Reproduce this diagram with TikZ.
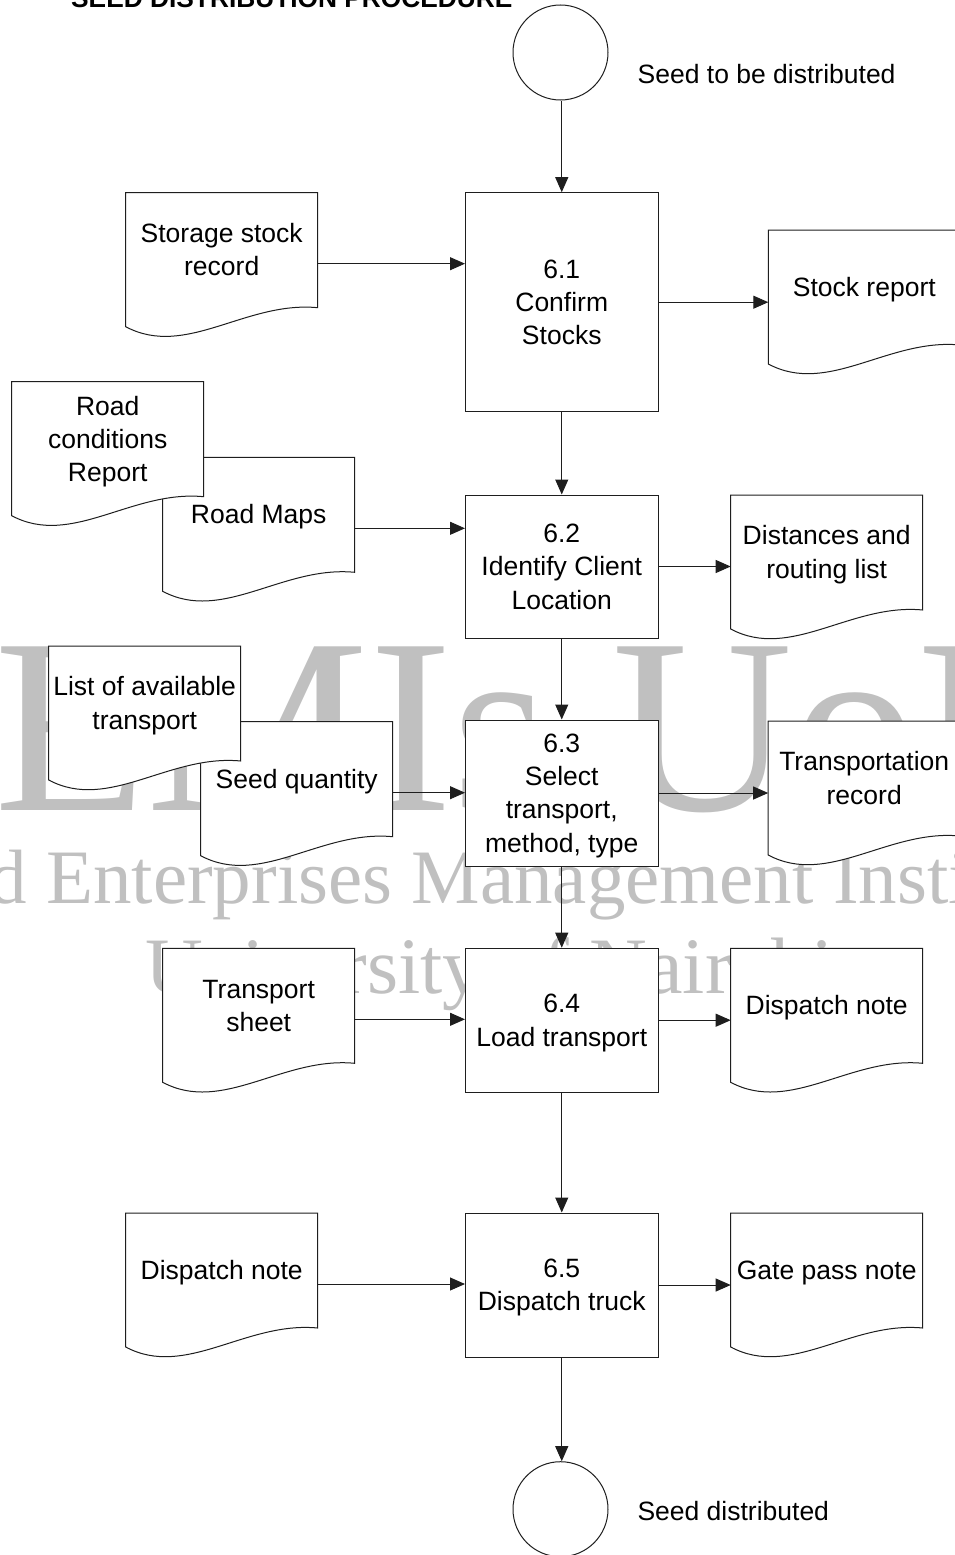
\documentclass[tikz,border=0pt]{standalone}
\usepackage{fontspec}
\setmainfont{Liberation Sans}
\newfontfamily\wmfont{Liberation Serif}
\usetikzlibrary{arrows.meta}
\definecolor{wm}{RGB}{192,192,192}
\definecolor{lc}{RGB}{30,30,30}
\newcommand\bodyfont{\fontsize{26.5}{33.3}\selectfont}
\newcommand\pst{\rule[-7.45pt]{0pt}{33.3pt}}
\newcommand\docshape[4]{%
  \path[docline] (#2,#3) -- (#2+192,#3) -- (#2+192,#3+115)
     .. controls (#2+120,#3+108) and (#2+60,#3+166) .. (#2,#3+134) -- cycle;
  \node[doctext] (#1) at (#2+96,#3+57.4) {#4};
  \coordinate (#1-w) at (#2,#3+71);
  \coordinate (#1-e) at (#2+192,#3+71);
}
\begin{document}
\begin{tikzpicture}[x=1pt,y=-1pt,
  docline/.style={draw=lc, line width=1pt, fill=white},
  doctext/.style={font=\bodyfont, align=center, inner sep=0pt},
  proc/.style={draw=lc, line width=1pt, fill=white, minimum width=192.5pt, font=\bodyfont, align=center, inner sep=0pt},
  circ/.style={circle, draw=lc, line width=1pt, fill=white, minimum size=95pt, inner sep=0pt},
  arr/.style={draw=lc, line width=1pt, -{Triangle[length=15pt,width=13pt]}},
  lbl/.style={font=\bodyfont, anchor=base west, inner sep=0pt},
  wmtext/.style={text=wm, inner sep=0pt, anchor=base west}]
\useasboundingbox (0,0) rectangle (954,1555);
% watermark
\node[wmtext, font=\wmfont\fontsize{250}{250}\selectfont] (wm1) at (-145,810) {SEMIs UoN};
\node[wmtext, font=\wmfont\fontsize{77}{77}\selectfont] (wm2) at (-123,903) {Seed Enterprises Management Institute};
\node[wmtext, font=\wmfont\fontsize{80}{80}\selectfont] (wm3) at (145,993) {University of Nairobi};
% title and terminals
\node[font=\bfseries\fontsize{26.3}{30}\selectfont, anchor=base west, inner sep=0pt] (title) at (71,8) {SEED DISTRIBUTION PROCEDURE};
\node[circ] (c1) at (560.5,52.5) {};
\node[lbl] (c1l) at (637.5,83.3) {Seed to be distributed};
\node[circ] (c2) at (560.5,1509.2) {};
\node[lbl] (c2l) at (637.3,1520) {Seed distributed};
% processes
\node[proc, minimum height=219pt] (p61) at (561.75,302.2) {\pst 6.1\\\pst Confirm\\\pst Stocks};
\node[proc, minimum height=143pt] (p62) at (561.75,566.5) {\pst 6.2\\\pst Identify Client\\\pst Location};
\node[proc, minimum height=146pt] (p63) at (561.75,793) {\pst 6.3\\\pst Select\\\pst transport,\\\pst method, type};
\node[proc, minimum height=144pt] (p64) at (561.75,1020.2) {\pst 6.4\\\pst Load transport};
\node[proc, minimum height=144pt] (p65) at (561.75,1285) {\pst 6.5\\\pst Dispatch truck};
% documents
\docshape{ssr}{125.7}{192.7}{\pst Storage stock\\\pst record}
\docshape{srep}{768.3}{230}{\pst Stock report}
\docshape{rmap}{162.7}{457.3}{\pst Road Maps}
\docshape{rcr}{11.7}{381.7}{\pst Road\\\pst conditions\\\pst Report}
\docshape{drl}{730.7}{495}{\pst Distances and\\\pst routing list}
\docshape{sq}{200.7}{721.7}{\pst Seed quantity}
\docshape{lat}{48.7}{646}{\pst List of available\\\pst transport}
\docshape{trec}{768.2}{721}{\pst Transportation\\\pst record}
\docshape{tsh}{162.7}{948.3}{\pst Transport\\\pst sheet}
\docshape{dn1}{730.7}{948.3}{\pst Dispatch note}
\docshape{dn2}{125.7}{1213}{\pst Dispatch note}
\docshape{gpn}{730.7}{1213}{\pst Gate pass note}
% vertical flow
\draw[arr] (p61.north |- c1.south) -- (p61.north);
\draw[arr] (p61.south) -- (p62.north);
\draw[arr] (p62.south) -- (p63.north);
\draw[arr] (p63.south) -- (p64.north);
\draw[arr] (p64.south) -- (p65.north);
\draw[arr] (p65.south) -- (p65.south |- c2.north);
% inputs
\draw[arr] (ssr-e) -- (ssr-e -| p61.west);
\draw[arr] (rmap-e) -- (rmap-e -| p62.west);
\draw[arr] (sq-e) -- (sq-e -| p63.west);
\draw[arr] (tsh-e) -- (tsh-e -| p64.west);
\draw[arr] (dn2-e) -- (dn2-e -| p65.west);
% outputs
\draw[arr] (p61.east) -- (p61.east -| srep-w);
\draw[arr] (p62.east) -- (p62.east -| drl-w);
\draw[arr] (p63.east) -- (p63.east -| trec-w);
\draw[arr] (p64.east) -- (p64.east -| dn1-w);
\draw[arr] (p65.east) -- (p65.east -| gpn-w);
\end{tikzpicture}
\end{document}
